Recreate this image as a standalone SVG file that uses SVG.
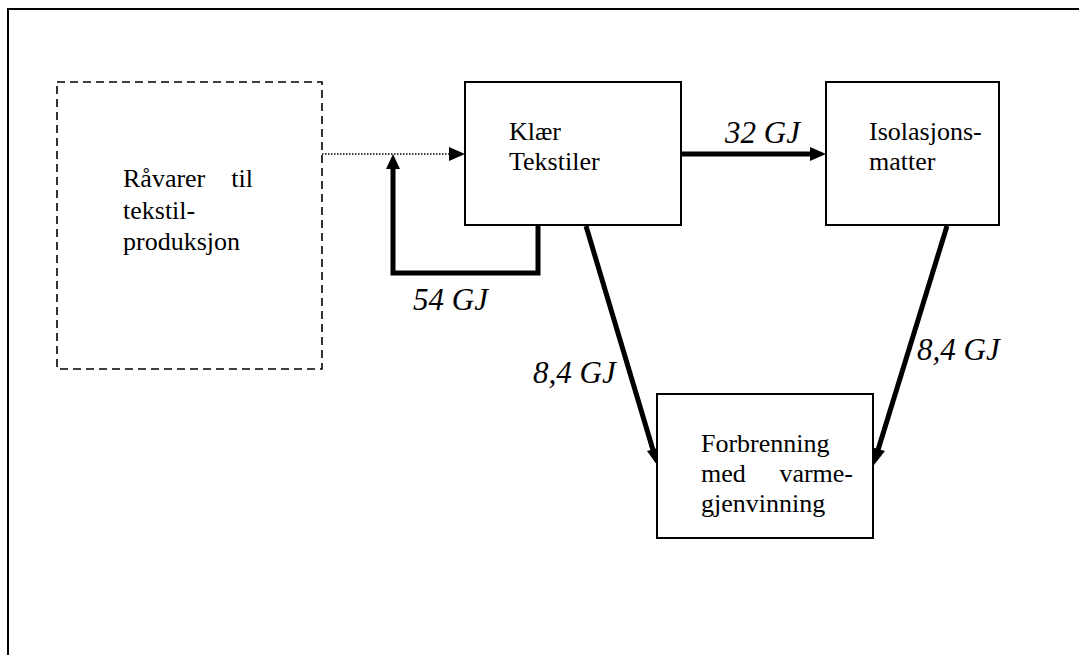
<svg xmlns="http://www.w3.org/2000/svg" width="1079" height="655" viewBox="0 0 1079 655">
<style>
.box{fill:#fff;stroke:#000;stroke-width:2}
.dash{fill:#fff;stroke:#000;stroke-width:1.6;stroke-dasharray:8 5}
text{font-family:'Liberation Serif',Times,serif;fill:#000}
.t{font-size:26px}
.it{font-size:31px;font-style:italic}
.flow{fill:none;stroke:#000;stroke-width:5}
</style>
<rect x="0" y="0" width="1079" height="655" fill="#fff"/>
<path d="M8 660 V9 H1085" fill="none" stroke="#000" stroke-width="2"/>
<g id="connectors">
<line x1="322" y1="154" x2="452" y2="154" stroke="#000" stroke-width="1.5" stroke-dasharray="1.5 1.5"/>
<polygon points="449,147 465,154 449,161" fill="#000"/>
<polyline class="flow" points="538,225 538,273 393,273 393,166"/>
<polygon points="386,169 393,154 400,169" fill="#000"/>
<line class="flow" x1="681" y1="154" x2="812" y2="154"/>
<polygon points="810,147 826,154 810,161" fill="#000"/>
<line class="flow" x1="586" y1="226" x2="653" y2="450"/>
<polygon points="647,451 657,465 661,447" fill="#000"/>
<line class="flow" x1="947" y1="226" x2="878" y2="450"/>
<polygon points="871,447 874,465 885,451" fill="#000"/>
<text class="it" x="413" y="310">54 GJ</text>
<text class="it" x="725" y="143">32 GJ</text>
<text class="it" x="533" y="383">8,4 GJ</text>
<text class="it" x="917" y="360">8,4 GJ</text>
</g>
<g id="raavarer">
<rect class="dash" x="57" y="82" width="265" height="287"/>
<text class="t" x="123" y="187">Råvarer</text>
<text class="t" x="253" y="187" text-anchor="end">til</text>
<text class="t" x="123" y="219">tekstil-</text>
<text class="t" x="123" y="250">produksjon</text>
</g>
<g id="klaer">
<rect class="box" x="465" y="82" width="216" height="143"/>
<text class="t" x="509" y="140">Klær</text>
<text class="t" x="509" y="170">Tekstiler</text>
</g>
<g id="isolasjon">
<rect class="box" x="826" y="82" width="173" height="143"/>
<text class="t" x="869" y="140">Isolasjons-</text>
<text class="t" x="869" y="170">matter</text>
</g>
<g id="forbrenning">
<rect class="box" x="657" y="394" width="216" height="144"/>
<text class="t" x="701" y="452">Forbrenning</text>
<text class="t" x="701" y="482">med</text>
<text class="t" x="853" y="482" text-anchor="end">varme-</text>
<text class="t" x="701" y="512">gjenvinning</text>
</g>
</svg>
